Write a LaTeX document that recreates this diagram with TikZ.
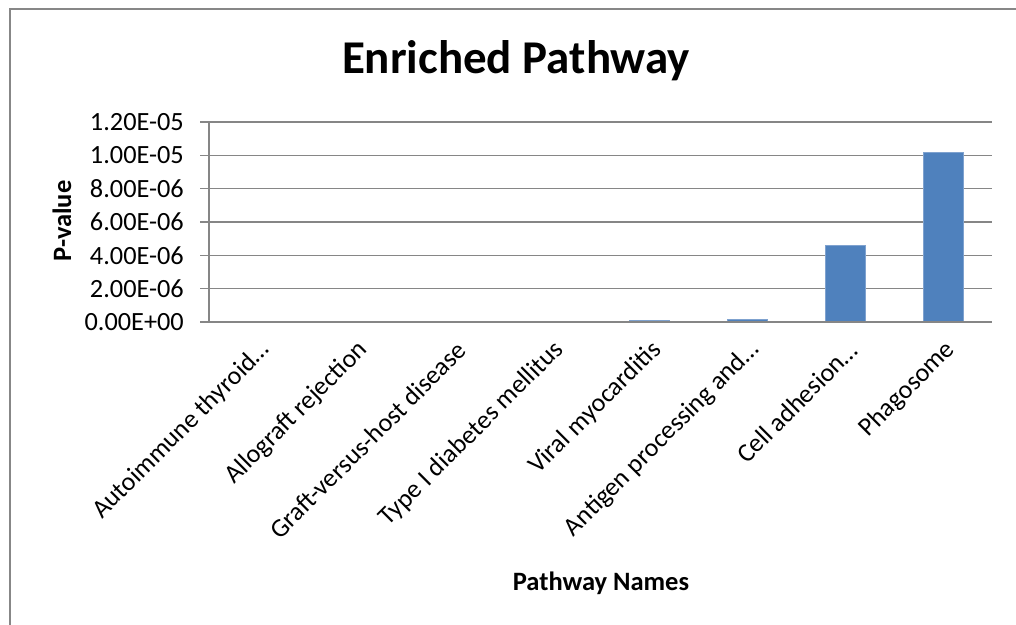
\documentclass[tikz,border=0pt]{standalone}
\usepackage{fontspec}
\setmainfont{Carlito}
\definecolor{gridgray}{HTML}{868686}
\definecolor{framegray}{HTML}{878787}
\definecolor{barblue}{HTML}{4F81BD}
\definecolor{baredge}{HTML}{7FA2CF}
\begin{document}
\begin{tikzpicture}[x=1pt,y=-1pt,
  frame/.style={draw=framegray,line width=2pt},
  gridline/.style={draw=gridgray,line width=1.6pt},
  bar/.style={fill=barblue,draw=baredge,line width=0.8pt},
  ticklabel/.style={anchor=east,inner sep=0pt,font=\fontsize{26.3}{30}\selectfont},
  catlabel/.style={anchor=east,rotate=45,inner sep=0pt,font=\fontsize{26}{30}\selectfont},
  axtitle/.style={inner sep=0pt,font=\fontsize{26.5}{30}\selectfont\bfseries},
  charttitle/.style={anchor=base,inner sep=0pt,font=\fontsize{47}{54}\selectfont\bfseries}]
\useasboundingbox (0,0) rectangle (1016,624);
\clip (0,0) rectangle (1016,624);
\fill[white] (0,0) rectangle (1016,624);
\draw[frame] (10,640) -- (10,8.5) -- (1030,8.5);
% title
\node[charttitle] (title) at (516,73) {Enriched Pathway};
% gridlines and tick labels
\foreach \i/\t in {0/0.00E+00,1/2.00E-06,2/4.00E-06,3/6.00E-06,4/8.00E-06,5/1.00E-05,6/1.20E-05}{
  \pgfmathsetmacro{\yy}{322-\i*33.333}
  \draw[gridline] (200,\yy) -- (992,\yy);
  \node[ticklabel] (tick\i) at (184,\yy) {\t};
}
\draw[gridline] (209,122) -- (209,322);
% bars (values in 1e-6)
\foreach \k/\v in {0/0,1/0,2/0,3/0,4/0.11,5/0.18,6/4.58,7/10.16}{
  \pgfmathsetmacro{\cx}{209+97.875*(\k+0.5)}
  \pgfmathsetmacro{\top}{322-\v*16.6667}
  \ifdim\v pt>0pt
    \fill[bar] (\cx-20,322) rectangle (\cx+20,\top);
  \fi
}
\draw[gridline] (200,322) -- (992,322);
% category labels
\foreach \k/\t in {0/Autoimmune thyroid…,1/Allograft rejection,2/Graft-versus-host disease,3/Type I diabetes mellitus,4/Viral myocarditis,5/Antigen processing and…,6/Cell adhesion…,7/Phagosome}{
  \pgfmathsetmacro{\cx}{209+97.875*(\k+0.5)+8}
  \node[catlabel] (cat\k) at (\cx,346) {\t};
}
% axis titles
\node[axtitle,rotate=90] (ytitle) at (62,221) {P-value};
\node[axtitle,anchor=base] (xtitle) at (601,590) {Pathway Names};
\end{tikzpicture}
\end{document}
